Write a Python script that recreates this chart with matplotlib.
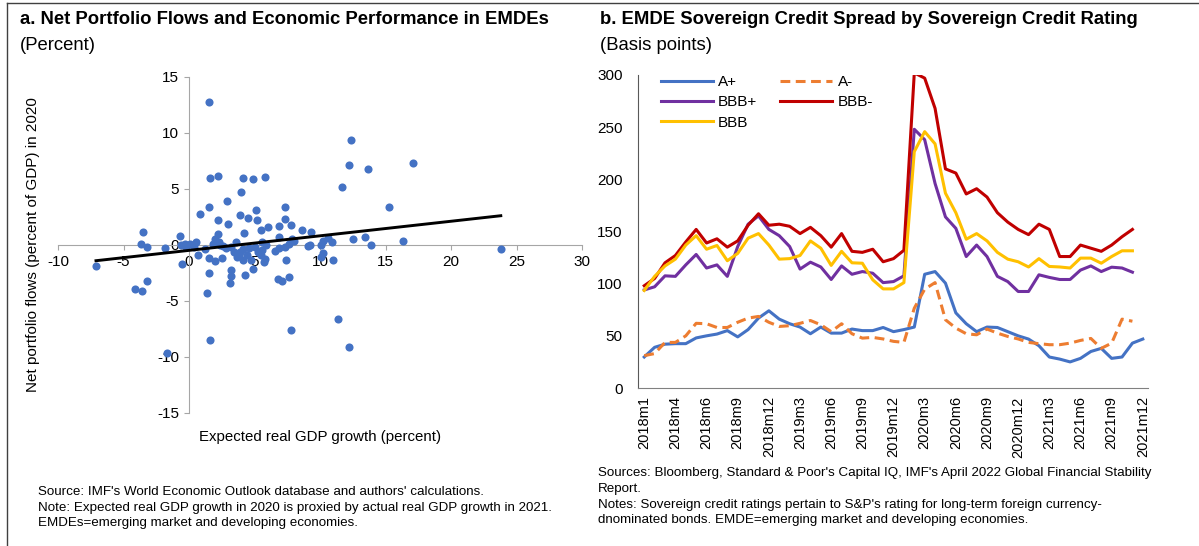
import matplotlib
matplotlib.use("Agg")
import matplotlib.pyplot as plt
from matplotlib.lines import Line2D
import numpy as np

plt.rcParams['font.family'] = ['Liberation Sans', 'DejaVu Sans']
plt.rcParams['axes.unicode_minus'] = False

# ---- panel a: scatter ----
gdp_growth = [
    -7.1, -3.5, -3.7, -3.2, -4.1, -3.6, -3.2, -1.7, 1.5, 7.8, 11.4, 12.2, 11.0,
    10.2, 10.6, 10.9, 10.1, 10.2, 10.1, 9.2, 11.7, 12.2, 12.4, 13.7, 17.1, 15.3,
    12.5, 13.4, 13.9, 16.3, 23.8, 1.6,
    -1.8, -0.7, -0.6, -0.25, -0.5, 0.85, 1.5, 1.6, 2.2, 0.5, 0.4, 0.7, 1.2, 1.5,
    2.0, 2.5, 1.5, 1.4, 2.2, 2.2, 1.8, 2.3, 2.9, 3.0, 2.8, 3.2, 3.4, 3.2, 3.2,
    3.1, 3.6, 3.7, 4.1, 3.95, 3.9, 4.5, 4.2, 4.3, 4.15, 4.6, 4.15, 4.7, 4.9, 5.8,
    5.15, 5.2, 5.5, 6.0, 5.0, 5.6, 5.6, 5.5, 5.8, 7.3, 7.3, 6.9, 7.8, 6.9, 6.6,
    6.9, 7.3, 7.6, 7.9, 7.4, 6.8, 7.1, 7.6, 8.6, 9.3, 9.05,
    4.9, 2.0, 2.6, 3.9, 4.4, 5.3, 5.9, 5.7, 3.8, 2.4, 8.0, 0.1, -0.3,
]
net_flows = [
    -1.9, 1.2, 0.06, -0.15, -3.9, -4.1, -3.2, -9.6, 12.8, -7.6, -6.6, -9.1, -1.3,
    0.4, 0.65, 0.24, 0.0, -0.7, -1.1, 0.0, 5.2, 7.1, 9.4, 6.8, 7.3, 3.4,
    0.5, 0.74, 0.0, 0.35, -0.38, -8.5,
    -0.3, 0.8, 0.0, -0.15, -1.7, 2.8, 3.4, 6.0, 6.2, 0.3, -0.2, -0.9, -0.35, -1.2,
    -1.4, -1.2, -2.5, -4.3, 2.2, 1.0, 0.1, 0.24, 3.9, 1.9, -0.3, -0.15, -0.65, -2.2, -2.8,
    -3.4, 0.3, -1.1, 6.0, 4.7, 2.7, 2.4, 1.1, -2.7, -0.35, -0.3, -1.3, -1.3, 5.9, 6.1,
    3.1, 2.2, 1.3, 1.6, -0.15, 0.3, -0.45, -0.9, -1.25, 3.4, 2.3, 1.7, 1.8, 0.7, -0.5,
    -0.27, -0.15, 0.1, 0.5, -1.3, -3.0, -3.2, -2.9, 1.3, 1.2, -0.06,
    -2.1, 0.5, -0.1, -0.6, -0.9, -0.6, 0.0, -1.5, -0.9, 0.0, 0.35, 0.1, 0.06,
]
trend_slope = 0.13
trend_intercept = -0.48

# ---- panel b: spreads (basis points), monthly categories ----
date_labels = ['2018m1', '2018m4', '2018m6', '2018m9', '2018m12', '2019m3', '2019m6',
               '2019m9', '2019m12', '2020m3', '2020m6', '2020m9', '2020m12',
               '2021m3', '2021m6', '2021m9', '2021m12']
a_plus = [29.7, 39, 42, 42.5, 42.5, 48, 50, 51.7, 55, 49, 56, 67, 74, 66, 61.6, 58.4,
          52, 58.4, 52.6, 52.6, 56.5, 55, 55, 58, 54, 56, 58.4, 109, 111.6, 100.5, 72,
          61.6, 54, 58.4, 58, 54, 50, 46.9, 40.5, 29.7, 27.7, 25, 28.4, 35, 38, 28.4,
          29.7, 43, 46.9]
a_minus = [31, 33, 43.7, 43.7, 50, 62, 61.6, 58, 58, 63, 67, 68.6, 63, 59, 59.7, 62,
           64.7, 60.6, 54, 61.6, 52, 47.8, 48.5, 47, 44.7, 43.7, 76.5, 94.7, 101, 65.4,
           57.4, 52, 51, 56.5, 52.6, 49.4, 47, 43.7, 42.5, 41.5, 41.5, 43, 45.6, 47.5,
           38, 43, 66, 64]
bbb_plus = [94, 97, 107.5, 107, 118, 128, 115, 118, 107, 135.6, 157, 165, 152, 146,
            135.6, 114, 120.6, 116, 104, 117, 109, 111.6, 110, 101, 102, 107.5, 248, 238,
            196, 164, 153, 126, 137, 126, 107, 102, 92.5, 92.5, 108.5, 106, 104, 104,
            113, 117, 111.6, 115.8, 115, 111]
bbb_minus = [98, 105, 120, 127, 140, 152, 139, 143, 135, 141, 156, 167, 156, 157, 155,
             148, 154, 146, 135, 148, 131, 130, 133, 121, 124, 132, 302, 297, 268, 210,
             206, 186, 191, 183, 168, 159, 152, 147, 157, 152, 126, 126, 137, 134, 131,
             137, 145, 152]
bbb = [93.5, 107, 117, 123.5, 137, 146, 133, 136.6, 122, 129, 143.6, 148, 137, 123.5,
       124, 127, 141, 134, 117.5, 131, 120, 119.6, 103.7, 95, 95, 101, 226.5, 245.7, 234,
       186.7, 168, 142.6, 148, 141, 130, 123.5, 121, 116, 124, 116.5, 116, 115, 124.5,
       124.5, 119.6, 126, 131.5, 131.5]

W, H = 1199, 546
fig = plt.figure(figsize=(W / 100, H / 100), dpi=100)

def fx(px):
    return px / W

def fy(py):
    return 1 - py / H

# outer frame (top + left only)
fig.add_artist(Line2D([fx(7), fx(7)], [0, fy(3)], color='#404040', lw=1))
fig.add_artist(Line2D([fx(7), 1], [fy(3), fy(3)], color='#404040', lw=1))

# ---------- panel a ----------
ax1 = fig.add_axes([fx(58), fy(413), fx(582) - fx(58), fy(77) - fy(413)])
ax1.scatter(gdp_growth, net_flows, s=34, color='#4472C4', zorder=3, linewidths=0)
tx = np.array([min(gdp_growth), max(gdp_growth)])
ax1.plot(tx, trend_intercept + trend_slope * tx, color='black', lw=2.1, zorder=4)
ax1.set_xlim(-10, 30)
ax1.set_ylim(-15, 15)
ax1.set_xticks(range(-10, 31, 5))
ax1.set_yticks(range(-15, 16, 5))
ax1.spines['left'].set_position(('data', 0))
ax1.spines['bottom'].set_position(('data', 0))
ax1.spines['top'].set_visible(False)
ax1.spines['right'].set_visible(False)
for s in ('left', 'bottom'):
    ax1.spines[s].set_color('#A6A6A6')
ax1.tick_params(colors='#A6A6A6', labelcolor='black', labelsize=11, length=3.5,
                direction='out')
ax1.patch.set_visible(False)

fig.text(fx(33), fy(245), 'Net portfolio flows (percent of GDP) in 2020',
         rotation=90, ha='center', va='center', fontsize=11)
fig.text(fx(320), fy(437), 'Expected real GDP growth (percent)',
         ha='center', va='center', fontsize=10.8)

fig.text(fx(20), fy(19), 'a. Net Portfolio Flows and Economic Performance in EMDEs',
         fontsize=13.3, fontweight='bold', va='center')
fig.text(fx(20), fy(45), '(Percent)', fontsize=13.3, va='center')

fig.text(fx(38), fy(486),
         "Source: IMF's World Economic Outlook database and authors' calculations.\n"
         "Note: Expected real GDP growth in 2020 is proxied by actual real GDP growth in 2021.\n"
         "EMDEs=emerging market and developing economies.",
         fontsize=9.6, va='top', linespacing=1.4)

# ---------- panel b ----------
ax2 = fig.add_axes([fx(638), fy(388), fx(1148) - fx(638), fy(75) - fy(388)])
lw = 2.2
l_ap, = ax2.plot(range(len(a_plus)), a_plus, color='#4472C4', lw=lw, label='A+')
l_am, = ax2.plot(range(len(a_minus)), a_minus, color='#ED7D31', lw=lw, label='A-',
                 dashes=(3.2, 1.8))
l_bp, = ax2.plot(range(len(bbb_plus)), bbb_plus, color='#7030A0', lw=lw, label='BBB+')
l_bm, = ax2.plot(range(len(bbb_minus)), bbb_minus, color='#C00000', lw=lw, label='BBB-')
l_b, = ax2.plot(range(len(bbb)), bbb, color='#FFC000', lw=lw, label='BBB')
ax2.set_ylim(0, 300)
ax2.set_xlim(-0.6, 48.5)
ax2.set_yticks(range(0, 301, 50))
ax2.set_xticks(range(0, 3 * len(date_labels), 3))
ax2.set_xticklabels(date_labels, rotation=90)
ax2.tick_params(axis='x', length=0, labelsize=10.5, pad=6)
ax2.tick_params(axis='y', length=0, labelsize=11, pad=11)
ax2.spines['top'].set_visible(False)
ax2.spines['right'].set_visible(False)
ax2.spines['left'].set_color('#595959')
ax2.spines['bottom'].set_color('#808080')
ax2.patch.set_visible(False)
ax2.legend(handles=[l_ap, l_bp, l_b, l_am, l_bm], ncol=2, loc='upper left',
           bbox_to_anchor=(0.045, 1.0), frameon=False, fontsize=11,
           handlelength=3.4, handletextpad=0.35, columnspacing=1.5,
           labelspacing=0.42, borderaxespad=0, borderpad=0)

fig.text(fx(600), fy(19), 'b. EMDE Sovereign Credit Spread by Sovereign Credit Rating',
         fontsize=13.3, fontweight='bold', va='center')
fig.text(fx(600), fy(45), '(Basis points)', fontsize=13.3, va='center')

fig.text(fx(598), fy(467),
         "Sources: Bloomberg, Standard & Poor's Capital IQ, IMF's April 2022 Global Financial Stability\n"
         "Report.\n"
         "Notes: Sovereign credit ratings pertain to S&P's rating for long-term foreign currency-\n"
         "dnominated bonds. EMDE=emerging market and developing economies.",
         fontsize=9.6, va='top', linespacing=1.42)

fig.savefig('out.png', dpi=100)
